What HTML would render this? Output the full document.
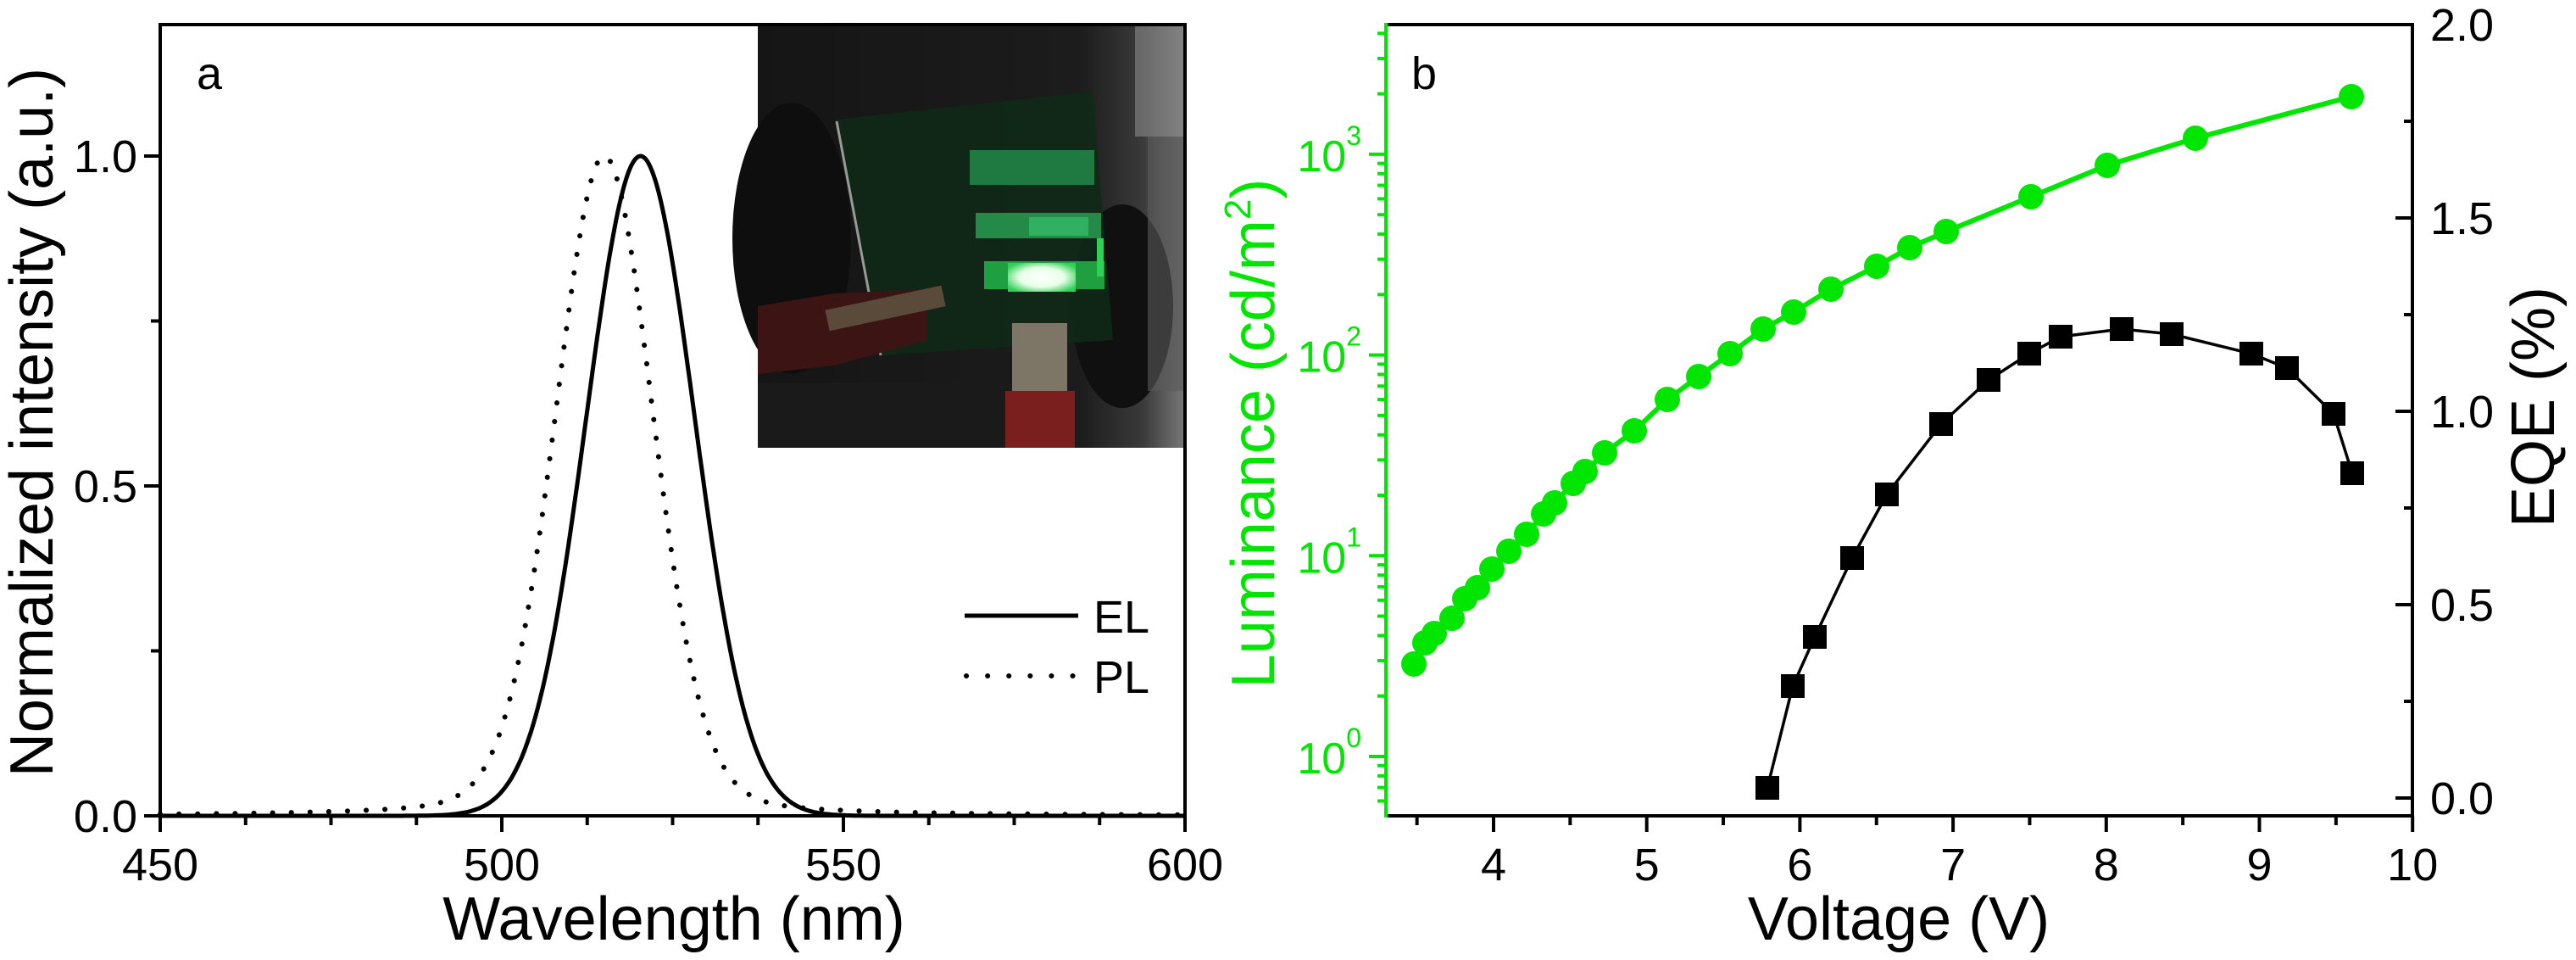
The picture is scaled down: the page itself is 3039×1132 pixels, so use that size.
<!DOCTYPE html>
<html><head><meta charset="utf-8"><style>
html,body{margin:0;padding:0;background:#fff;}
svg{display:block;font-family:"Liberation Sans",Arial,sans-serif;}
</style></head><body>
<svg id="s" width="3039" height="1132" viewBox="0 0 3039 1132" xmlns="http://www.w3.org/2000/svg">
<rect width="3039" height="1132" fill="#fff"/>
<defs>
<radialGradient id="glow" cx="0.5" cy="0.5" r="0.6"><stop offset="0" stop-color="#ffffff"/><stop offset="0.55" stop-color="#e8ffe8"/><stop offset="1" stop-color="#2fd055"/></radialGradient>
<linearGradient id="bg" x1="0" y1="0" x2="1" y2="0"><stop offset="0" stop-color="#151515"/><stop offset="0.75" stop-color="#1c1c1c"/><stop offset="0.9" stop-color="#3a3a3a"/><stop offset="1" stop-color="#7a7a7a"/></linearGradient>
</defs>
<!-- inset photo -->
<g transform="translate(894,31)">
<rect x="0" y="0" width="505" height="497" fill="url(#bg)"/>
<ellipse cx="40" cy="250" rx="70" ry="160" fill="#0e0e0e"/>
<ellipse cx="430" cy="330" rx="60" ry="120" fill="#101010"/>
<rect x="445" y="0" width="60" height="130" fill="#8a8a8a" opacity="0.6"/>
<rect x="460" y="130" width="45" height="300" fill="#5a5a5a" opacity="0.6"/>
<polygon points="91,110 395,77 419,370 145,388" fill="#0f2a18" opacity="0.85"/>
<line x1="93" y1="112" x2="145" y2="388" stroke="#cfcfcf" stroke-width="3" opacity="0.7"/>
<rect x="250" y="146" width="147" height="41" fill="#1e7a40"/>
<rect x="257" y="220" width="148" height="30" fill="#238a48"/>
<rect x="320" y="225" width="70" height="22" fill="#30b060"/>
<rect x="267" y="277" width="142" height="33" fill="#1fa040"/>
<rect x="295" y="279" width="80" height="34" fill="url(#glow)"/>
<rect x="400" y="250" width="8" height="45" fill="#2fd055"/>
<polygon points="0,330 90,315 200,310 200,370 90,400 0,410" fill="#3d1414"/>
<rect x="80" y="320" width="140" height="25" fill="#5a4a3a" transform="rotate(-12 150 330)"/>
<rect x="300" y="350" width="65" height="90" fill="#7d7566"/>
<rect x="292" y="430" width="82" height="67" fill="#7a1e1e"/>
<rect x="0" y="420" width="280" height="77" fill="#1a1a1a"/>
</g>
<g id="a"></g>
<g id="b"></g>
</svg>
<script>
var NS="http://www.w3.org/2000/svg";
function el(p,t,a,txt){var e=document.createElementNS(NS,t);for(var k in a)e.setAttribute(k,a[k]);if(txt!==undefined)e.textContent=txt;p.appendChild(e);return e;}
var A=document.getElementById('a'),B=document.getElementById('b');
// Panel a
function X(n){return 189+(n-450)*8.06;}function Y(v){return 962-v*778;}
var el_d="",pl_d="";
for(var n=450;n<=600;n+=0.25){
 var g=Math.exp(-Math.pow(n-520.3,2)/(2*7.9*7.9));
 var s=17/2.3548,eta=0.15,G=Math.exp(-Math.pow(n-515,2)/(2*s*s)),L=1/(1+Math.pow(2*(n-515)/17,2));
 var p=eta*L+(1-eta)*G;
 el_d+=(n==450?"M":"L")+X(n).toFixed(1)+","+Y(g).toFixed(1);
 pl_d+=(n==450?"M":"L")+X(n).toFixed(1)+","+Y(p).toFixed(1);
}
el(A,'path',{d:pl_d,fill:'none',stroke:'#000','stroke-width':6,'stroke-dasharray':'0.1 22','stroke-linecap':'round'});
el(A,'path',{d:el_d,fill:'none',stroke:'#000','stroke-width':5});
el(A,'rect',{x:189,y:29,width:1209,height:933,fill:'none',stroke:'#000','stroke-width':4});
for(var n=450;n<=600;n+=12.5){var maj=(n%50==0);el(A,'line',{x1:X(n),x2:X(n),y1:962,y2:962+(maj?19:11),stroke:'#000','stroke-width':4});
 if(maj)el(A,'text',{x:X(n),y:1038,'font-size':54,'text-anchor':'middle'},String(n));}
for(var v=0;v<=1.2001;v+=0.25){var maj=(Math.abs(v*2-Math.round(v*2))<1e-6);el(A,'line',{x1:189,x2:189-(maj?19:11),y1:Y(v),y2:Y(v),stroke:'#000','stroke-width':4});
 if(maj)el(A,'text',{x:162,y:Y(v)+19,'font-size':54,'text-anchor':'end'},v.toFixed(1));}
el(A,'text',{x:795,y:1108,'font-size':72,'text-anchor':'middle'},'Wavelength (nm)');
el(A,'text',{transform:'translate(62,498) rotate(-90)','font-size':72,'text-anchor':'middle'},'Normalized intensity (a.u.)');
el(A,'text',{x:232,y:105,'font-size':54},'a');
el(A,'line',{x1:1138,x2:1272,y1:726,y2:726,stroke:'#000','stroke-width':5});
el(A,'line',{x1:1140,x2:1272,y1:797,y2:797,stroke:'#000','stroke-width':6,'stroke-dasharray':'0.1 25','stroke-linecap':'round'});
el(A,'text',{x:1290,y:746,'font-size':54},'EL');
el(A,'text',{x:1290,y:817,'font-size':54},'PL');
// Panel b
var G='#00e600';
function XV(v){return 1762+(v-4)*180.7;}function YL(l){return 892-l*236.7;}function YE(e){return 941-e*456;}
var cx=[1668,1681,1692,1713,1728,1743,1760,1780,1801,1821,1834,1856,1870,1893,1928,1967,2004,2041,2080,2116,2160,2214,2253,2296,2396,2486,2590,2774];
var cy=[783,758,747,729,706,693,671,650,630,606,593,570,556,534,508,471,444,417,388,368,341,314,292,273,232,195,163,114];
var d="";for(var i=0;i<cx.length;i++)d+=(i?"L":"M")+cx[i]+","+cy[i];
el(B,'path',{d:d,fill:'none',stroke:G,'stroke-width':6});
for(var i=0;i<cx.length;i++)el(B,'circle',{cx:cx[i],cy:cy[i],r:15,fill:G});
var sx=[2085,2115,2141,2185,2226,2290,2346,2394,2431,2503,2562,2656,2698,2753,2775];
var sy=[929,809,751,658,583,500,448,417,397,388,394,417,434,488,558];
d="";for(var i=0;i<sx.length;i++)d+=(i?"L":"M")+sx[i]+","+sy[i];
el(B,'path',{d:d,fill:'none',stroke:'#000','stroke-width':3.5});
for(var i=0;i<sx.length;i++)el(B,'rect',{x:sx[i]-14,y:sy[i]-14,width:28,height:28,fill:'#000'});
// frame
el(B,'line',{x1:1635,x2:2848,y1:29,y2:29,stroke:'#000','stroke-width':4});
el(B,'line',{x1:1635,x2:2848,y1:962,y2:962,stroke:'#000','stroke-width':4});
el(B,'line',{x1:2846,x2:2846,y1:27,y2:964,stroke:'#000','stroke-width':4});
el(B,'line',{x1:1635,x2:1635,y1:27,y2:964,stroke:G,'stroke-width':4});
for(var v=3.5;v<=10.001;v+=0.5){var maj=(v%1==0);el(B,'line',{x1:XV(v),x2:XV(v),y1:962,y2:962+(maj?19:11),stroke:'#000','stroke-width':4});
 if(maj)el(B,'text',{x:XV(v),y:1038,'font-size':54,'text-anchor':'middle'},String(v));}
for(var dec=-1;dec<=3;dec++){for(var k=1;k<=9;k++){var l=dec+Math.log10(k);if(l<-0.296||l>3.646)continue;var y=YL(l);
 el(B,'line',{x1:1635,x2:1635-(k==1?20:10),y1:y,y2:y,stroke:G,'stroke-width':4});
 if(k==1){var t=el(B,'text',{x:1606,y:y+20,'font-size':52,'text-anchor':'end',fill:G},'10');var ts=el(t,'tspan',{dy:-31,'font-size':32},String(dec));}}}
for(var e=0;e<=2.001;e+=0.25){var maj=(Math.abs(e*2-Math.round(e*2))<1e-6);var y=YE(e);
 el(B,'line',{x1:2846,x2:2846-(maj?20:10),y1:y,y2:y,stroke:'#000','stroke-width':4});
 if(maj)el(B,'text',{x:2867,y:y+19,'font-size':54},e.toFixed(1));}
el(B,'text',{x:2240,y:1108,'font-size':72,'text-anchor':'middle'},'Voltage (V)');
var t=el(B,'text',{transform:'translate(1503,511) rotate(-90)','font-size':72,'text-anchor':'middle',fill:G},'Luminance (cd/m');
el(t,'tspan',{dy:-28,'font-size':44},'2');el(t,'tspan',{dy:28},')');
el(B,'text',{transform:'translate(3013,480) rotate(-90)','font-size':72,'text-anchor':'middle'},'EQE (%)');
el(B,'text',{x:1665,y:105,'font-size':54},'b');
</script>
</body></html>
